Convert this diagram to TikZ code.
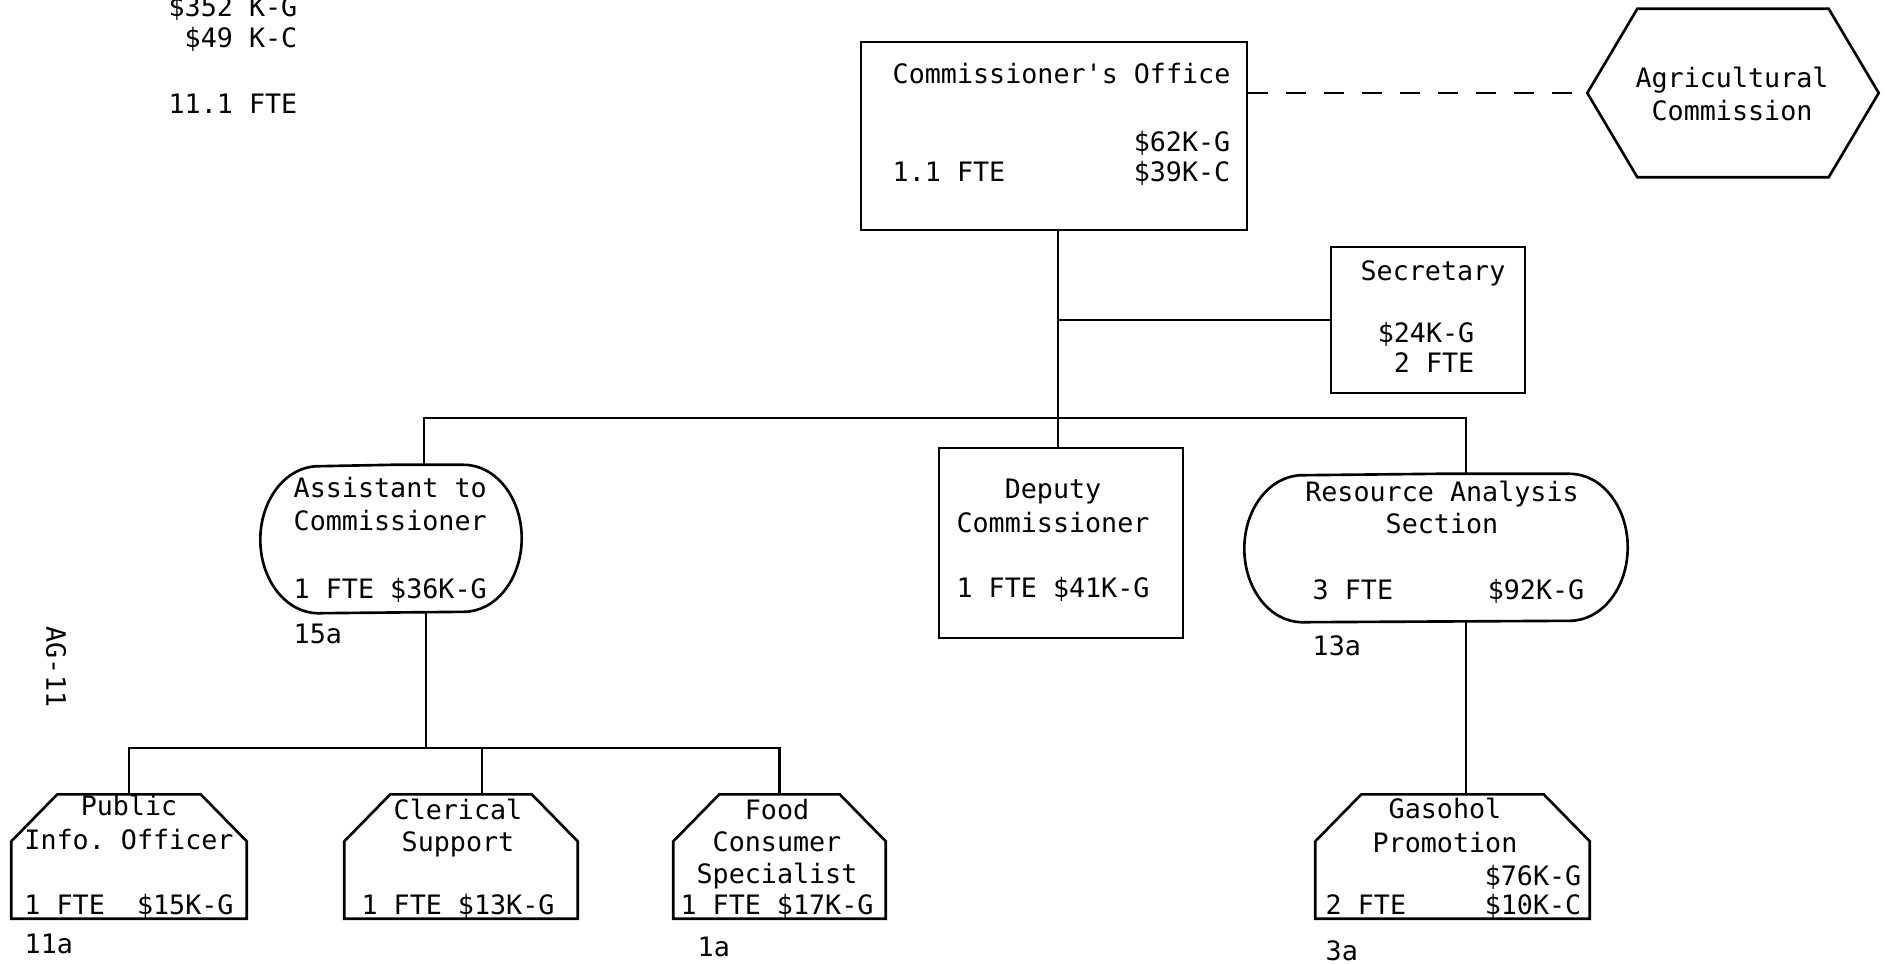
\documentclass[tikz,border=0pt]{standalone}
\usepackage{fontspec}
\newfontfamily\typew{DejaVu Sans Mono}

\tikzset{
  txt/.style={font=\typew\fontsize{7.6}{9}\selectfont\frenchspacing, inner sep=0pt},
  unit/.style={draw, line width=0.75pt, inner sep=0pt},
  tab/.style={inner sep=0pt},
  link/.style={line width=0.75pt},
  dashlink/.style={line width=0.75pt, dash pattern=on 0.2cm off 0.18cm},
}

\begin{document}
\begin{tikzpicture}[every node/.style={txt}]
     \useasboundingbox (0,0) rectangle (18.85,-9.63);

      % totals
      \node[anchor=base east] (totG) at (2.98,-0.16) {\$352 K-G};
      \node[anchor=base east] (totC) at (2.98,-0.47) {\$49 K-C};
      \node[anchor=base east] (totF) at (2.98,-1.13) {11.1 FTE};
      \node[rotate=-90] (pageno) at (0.56,-6.67) {AG-11};

      % top
      \node[unit, minimum width=3.86cm, minimum height=1.88cm] (office) at (10.54,-1.36) {};
      \node[anchor=base west] (office-n) at (8.92,-0.83) {Commissioner\textquotesingle s Office};
      \node[anchor=base east] (office-g) at (12.31,-1.51) {\$62K-G};
      \node[anchor=base west] (office-f) at (8.92,-1.81) {1.1 FTE};
      \node[anchor=base east] (office-c) at (12.31,-1.81) {\$39K-C};

      \node[tab, minimum width=1.90cm, minimum height=1.67cm] (agri) at (17.33,-0.93) {};
      \draw[link] (agri.north west) -- (agri.north east) -- ([xshift=0.5cm]agri.east)
        -- (agri.south east) -- (agri.south west) -- ([xshift=-0.5cm]agri.west) -- cycle;
      \coordinate (agritip) at ([xshift=-0.5cm]agri.west);
      \node[anchor=base] (agri-1) at (17.32,-0.87) {Agricultural};
      \node[anchor=base] (agri-2) at (17.32,-1.20) {Commission};
      \draw[dashlink] (office.east |- agritip) -- (agritip);

      \node[unit, minimum width=1.94cm, minimum height=1.46cm] (sec) at (14.28,-3.20) {};
      \node[anchor=base] (sec-n) at (14.33,-2.80) {Secretary};
      \node[anchor=base east] (sec-g) at (14.75,-3.42) {\$24K-G};
      \node[anchor=base east] (sec-f) at (14.75,-3.72) {2 FTE};

      % middle row
      \node[tab, minimum width=2.60cm, minimum height=1.47cm] (asst) at (3.91,-5.39) {};
      \node[anchor=base west] (asst-1) at (2.93,-4.97) {Assistant to};
      \node[anchor=base west] (asst-2) at (2.93,-5.30) {Commissioner};
      \node[anchor=base west] (asst-3) at (2.93,-5.98) {1 FTE \$36K-G};
      \node[anchor=base west] (asst-r) at (2.93,-6.43) {15a};

      \node[unit, minimum width=2.44cm, minimum height=1.90cm] (dep) at (10.61,-5.43) {};
      \node[anchor=base] (dep-1) at (10.53,-4.98) {Deputy};
      \node[anchor=base] (dep-2) at (10.53,-5.32) {Commissioner};
      \node[anchor=base] (dep-3) at (10.53,-5.97) {1 FTE \$41K-G};

      \node[tab, minimum width=3.82cm, minimum height=1.47cm] (res) at (14.36,-5.48) {};
      \node[anchor=base] (res-1) at (14.42,-5.01) {Resource Analysis};
      \node[anchor=base] (res-2) at (14.42,-5.33) {Section};
      \node[anchor=base west] (res-f) at (13.12,-5.99) {3 FTE};
      \node[anchor=base east] (res-g) at (15.85,-5.99) {\$92K-G};
      \node[anchor=base west] (res-r) at (13.12,-6.55) {13a};

      \foreach \t in {asst,res}
        \draw[link] (\t.north) -- ([xshift=-0.58cm]\t.north east)
          arc[start angle=90, end angle=-90, x radius=0.58cm, y radius=0.735cm]
          -- ([xshift=0.58cm]\t.south west)
          arc[start angle=270, end angle=90, x radius=0.58cm, y radius=0.735cm] -- cycle;

      % bottom row
      \node[tab, minimum width=2.34cm, minimum height=1.23cm] (pio) at (1.29,-8.565) {};
      \node[tab, minimum width=2.32cm, minimum height=1.23cm] (cler) at (4.61,-8.565) {};
      \node[tab, minimum width=2.11cm, minimum height=1.23cm] (food) at (7.795,-8.565) {};
      \node[tab, minimum width=2.73cm, minimum height=1.23cm] (gas) at (14.525,-8.565) {};
      \foreach \t in {pio,cler,food,gas}
        \draw[link] (\t.south west) -- ([yshift=-0.47cm]\t.north west) -- ([xshift=0.46cm]\t.north west)
          -- ([xshift=-0.46cm]\t.north east) -- ([yshift=-0.47cm]\t.north east) -- (\t.south east) -- cycle;

      \node[anchor=base] (pio-1) at (1.29,-8.15) {Public};
      \node[anchor=base] (pio-2) at (1.29,-8.49) {Info. Officer};
      \node[anchor=base] (pio-3) at (1.29,-9.14) {1 FTE~~\$15K-G};
      \node[anchor=base west] (pio-r) at (0.24,-9.53) {11a};

      \node[anchor=base] (cler-1) at (4.58,-8.19) {Clerical};
      \node[anchor=base] (cler-2) at (4.58,-8.51) {Support};
      \node[anchor=base] (cler-3) at (4.58,-9.14) {1 FTE \$13K-G};

      \node[anchor=base] (food-1) at (7.77,-8.19) {Food};
      \node[anchor=base] (food-2) at (7.77,-8.51) {Consumer};
      \node[anchor=base] (food-3) at (7.77,-8.83) {Specialist};
      \node[anchor=base] (food-4) at (7.77,-9.14) {1 FTE \$17K-G};
      \node[anchor=base west] (food-r) at (6.97,-9.56) {1a};

      \node[anchor=base] (gas-1) at (14.45,-8.18) {Gasohol};
      \node[anchor=base] (gas-2) at (14.45,-8.52) {Promotion};
      \node[anchor=base east] (gas-g) at (15.82,-8.85) {\$76K-G};
      \node[anchor=base west] (gas-f) at (13.25,-9.14) {2 FTE};
      \node[anchor=base east] (gas-c) at (15.82,-9.14) {\$10K-C};
      \node[anchor=base west] (gas-r) at (13.25,-9.60) {3a};

      % lines
      \coordinate (topbus) at (10.58,-4.18);
      \coordinate (busL) at (4.24,-4.18);
      \coordinate (busR) at (14.66,-4.18);
      \draw[link] (topbus |- office.south) -- (topbus);
      \draw[link] (sec.west) -- (sec.west -| topbus);
      \draw[link] (busL |- asst.north) -- (busL) -- (busR) -- (busR |- res.north);
      \draw[link] (topbus) -- (topbus |- dep.north);

      \coordinate (lowbus) at (4.26,-7.48);
      \coordinate (clerdrop) at (4.82,-7.48);
      \draw[link] (lowbus |- asst.south) -- (lowbus);
      \draw[link] (pio.north) -- (pio.north |- lowbus) -- (food.north |- lowbus) -- (food.north);
      \draw[link] (clerdrop) -- (clerdrop |- cler.north);
      \draw[link] (busR |- res.south) -- (busR |- gas.north);
\end{tikzpicture}
\end{document}
